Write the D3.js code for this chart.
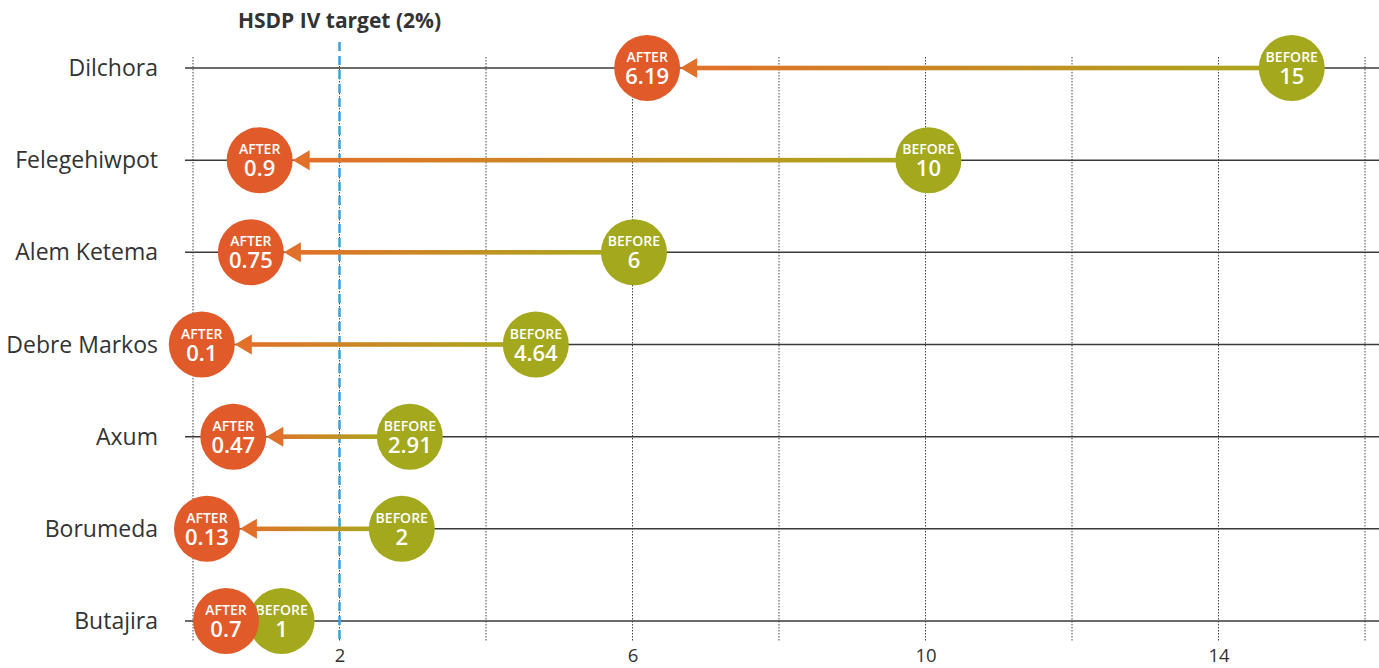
<!DOCTYPE html>
<html>
<head>
<meta charset="utf-8">
<script src="https://cdn.jsdelivr.net/npm/d3@7"></script>
<style>
  body { margin: 0; background: #fff; }
  svg { display: block; font-family: "Open Sans", sans-serif; }
</style>
</head>
<body>
<svg id="chart" width="1379" height="668"></svg>
<script>
// ---- data ----
const towns = ["Dilchora", "Felegehiwpot", "Alem Ketema", "Debre Markos", "Axum", "Borumeda", "Butajira"];
const beforeLabels = ["15", "10", "6", "4.64", "2.91", "2", "1"];
const afterLabels = ["6.19", "0.9", "0.75", "0.1", "0.47", "0.13", "0.7"];
// where the circles sit on the axis
const beforeValues = [15, 10.04, 6.02, 4.68, 2.96, 2.85, 1.21];
const afterValues = [6.2, 0.91, 0.79, 0.12, 0.55, 0.19, 0.45];
const tickLabels = [2, 6, 10, 14];
const gridValues = [0, 2, 4, 6, 8, 10, 12, 14, 16];
const targetValue = 2;

const rows = towns.map((t, i) => ({
  town: t,
  before: beforeValues[i],
  after: afterValues[i],
  beforeLabel: beforeLabels[i],
  afterLabel: afterLabels[i]
}));

// ---- setup ----
const svg = d3.select("#chart");
const width = 1379;

const afterColor = "#e15a2a";
const beforeColor = "#a3a81c";
const arrowColor = "#e1712a";
const r = 33;
const headLen = 17;
const headHalf = 10;

const x = d3.scaleLinear().domain([0, 16]).range([193, 1365]);
const y = d3.scalePoint().domain(towns).range([68, 621]);

const defs = svg.append("defs");

// dotted grid
svg.append("g").selectAll("line")
  .data(gridValues)
  .join("line")
  .attr("x1", d => x(d)).attr("x2", d => x(d))
  .attr("y1", 57).attr("y2", 641)
  .attr("stroke", "#444")
  .attr("stroke-width", 1)
  .attr("stroke-dasharray", "1.5,1.5");

// row lines
svg.append("g").selectAll("line")
  .data(towns)
  .join("line")
  .attr("x1", 185).attr("x2", width)
  .attr("y1", d => y(d)).attr("y2", d => y(d))
  .attr("stroke", "#3a3a3a")
  .attr("stroke-width", 1.5);

// row labels
svg.append("g").selectAll("text")
  .data(towns)
  .join("text")
  .attr("x", 158)
  .attr("y", d => y(d))
  .attr("dy", "0.35em")
  .attr("text-anchor", "end")
  .attr("font-size", 23)
  .attr("fill", "#333")
  .text(d => d);

// target line
svg.append("line")
  .attr("x1", x(targetValue)).attr("x2", x(targetValue))
  .attr("y1", 42).attr("y2", 640)
  .attr("stroke", "#3a9fdc")
  .attr("stroke-width", 2.5)
  .attr("stroke-dasharray", "9,5");

svg.append("text")
  .attr("x", x(targetValue))
  .attr("y", 28)
  .attr("text-anchor", "middle")
  .attr("font-size", 21)
  .attr("font-weight", 700)
  .attr("fill", "#333")
  .text("HSDP IV target (2%)");

// x axis labels
const xAxisG = svg.append("g")
  .attr("transform", "translate(0,646)")
  .call(d3.axisBottom(x).tickValues(tickLabels).tickSize(0).tickPadding(3).tickFormat(d3.format("d")));
xAxisG.select(".domain").remove();
xAxisG.selectAll("text")
  .attr("font-family", "'Open Sans', sans-serif")
  .attr("font-size", 18.5)
  .attr("fill", "#333");

// ---- arrows ----
rows.forEach((d, i) => {
  const x0 = x(d.after) + r;
  const x1 = x(d.before) - r;
  defs.append("linearGradient")
    .attr("id", "grad" + i)
    .attr("gradientUnits", "userSpaceOnUse")
    .attr("x1", x0).attr("x2", x1)
    .attr("y1", 0).attr("y2", 0)
    .selectAll("stop")
    .data([{ o: "0%", c: "#e36f2a" }, { o: "100%", c: "#aca51e" }])
    .join("stop")
    .attr("offset", s => s.o)
    .attr("stop-color", s => s.c);
});

const arrowG = svg.append("g");
const arrows = arrowG.selectAll("g")
  .data(rows.filter(d => (x(d.before) - r) - (x(d.after) + r + headLen) > 0))
  .join("g");

arrows.append("rect")
  .attr("x", d => x(d.after) + r + headLen - 1)
  .attr("width", d => (x(d.before) - r) - (x(d.after) + r + headLen) + 2)
  .attr("y", d => y(d.town) - 2.3)
  .attr("height", 4.6)
  .attr("fill", d => `url(#grad${rows.indexOf(d)})`);

arrows.append("path")
  .attr("d", d => {
    const tip = x(d.after) + r;
    const cy = y(d.town);
    return `M${tip},${cy}L${tip + headLen},${cy - headHalf}L${tip + headLen},${cy + headHalf}Z`;
  })
  .attr("fill", arrowColor);

// ---- circles ----
function drawDots(key, labelKey, word, color) {
  const g = svg.append("g").selectAll("g")
    .data(rows)
    .join("g")
    .attr("transform", d => `translate(${x(d[key])},${y(d.town)})`);
  g.append("circle")
    .attr("r", r)
    .attr("fill", color);
  g.append("text")
    .attr("y", -6)
    .attr("text-anchor", "middle")
    .attr("font-size", 14)
    .attr("font-weight", 600)
    .attr("fill", "#fff")
    .text(word);
  g.append("text")
    .attr("y", 16)
    .attr("text-anchor", "middle")
    .attr("font-size", 22)
    .attr("font-weight", 600)
    .attr("fill", "#fff")
    .text(d => d[labelKey]);
}

drawDots("before", "beforeLabel", "BEFORE", beforeColor);
drawDots("after", "afterLabel", "AFTER", afterColor);
</script>
</body>
</html>
